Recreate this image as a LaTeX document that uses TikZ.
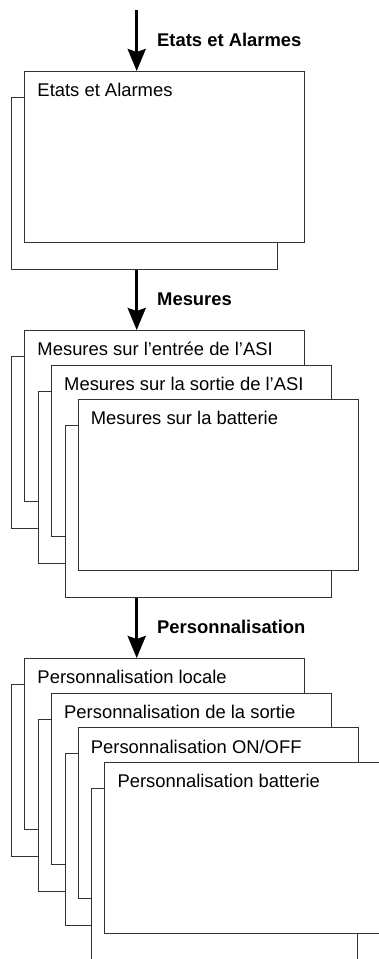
\documentclass[tikz,border=0pt]{standalone}
\usepackage{fontspec}
\setmainfont{Liberation Sans}
\usetikzlibrary{positioning, arrows.meta}
\tikzset{
  face/.style={draw=black!80, fill=white, line width=0.8pt, anchor=north west,
    minimum width=280pt, minimum height=171pt, inner sep=0pt},
  dos/.style={face, minimum width=266pt, minimum height=172pt},
  titre/.style={inner sep=0pt, anchor=north west, text height=13pt, text depth=4pt,
    font=\fontsize{18.4}{22}\selectfont},
  etiq/.style={titre, font=\fontsize{18.4}{22}\selectfont\bfseries, anchor=west,
    xshift=19pt, yshift=-1pt},
  fleche/.style={line width=3pt, -{Stealth[length=22pt, width=18pt, inset=3pt]}},
}
% one screen: shadow box, front box, title
\newcommand{\ecran}[4]{%
  \node[dos] (#1d) at (#2-13,#3+26) {};
  \node[face] (#1) at (#2,#3) {};
  \node[titre, below right=12.5pt and 13pt of #1.north west] (#1t) {#4};
}

\begin{document}
\begin{tikzpicture}[x=1pt, y=-1pt]
\useasboundingbox (0,0) rectangle (379,959);
\clip (0,0) rectangle (379,959);

% Etats et Alarmes
\ecran{ea}{24.3}{71}{Etats et Alarmes}
% Mesures
\ecran{ma}{24.3}{330}{Mesures sur l'entrée de l'ASI}
\ecran{mb}{51}{364.5}{Mesures sur la sortie de l'ASI}
\ecran{mc}{77.7}{399}{Mesures sur la batterie}
% Personnalisation
\ecran{pa}{24.3}{658}{Personnalisation locale}
\ecran{pb}{51}{692.7}{Personnalisation de la sortie}
\ecran{pc}{77.7}{727.3}{Personnalisation ON/OFF}
\ecran{pd}{104.3}{762}{Personnalisation batterie}

\coordinate (depart) at (136.7,10);
\draw[fleche] (depart) -- (ea.north -| depart) node[midway, etiq] {Etats et Alarmes};
\draw[fleche] (ead.south -| depart) -- (ma.north -| depart) node[midway, etiq] {Mesures};
\draw[fleche] (mcd.south -| depart) -- (pa.north -| depart) node[midway, etiq] {Personnalisation};
\end{tikzpicture}
\end{document}
